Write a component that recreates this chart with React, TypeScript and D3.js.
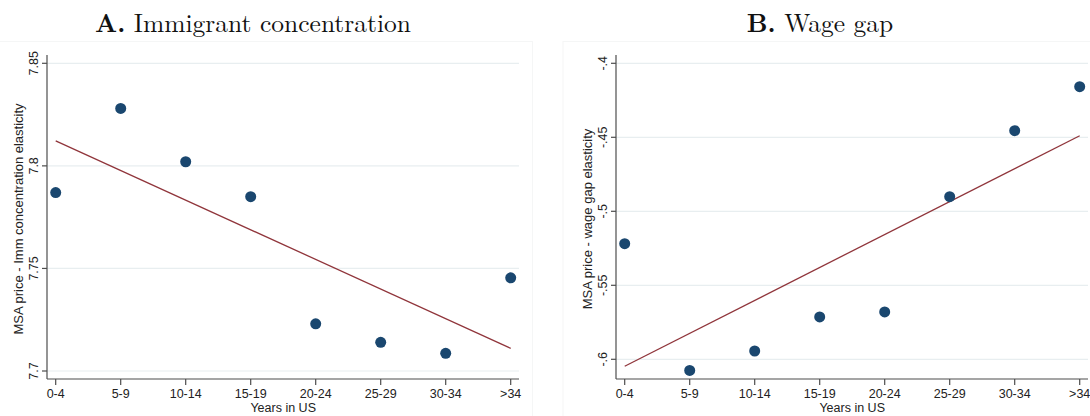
import React from "react";
import * as d3 from "d3";

const categories = ["0-4", "5-9", "10-14", "15-19", "20-24", "25-29", "30-34", ">34"];
const immValues = [7.787, 7.828, 7.802, 7.785, 7.723, 7.714, 7.7086, 7.7454];
const wageValues = [-0.5219, -0.6075, -0.5944, -0.5714, -0.568, -0.4901, -0.4455, -0.4158];
const immTicks = [7.7, 7.75, 7.8, 7.85];
const immTickLabels = ["7.7", "7.75", "7.8", "7.85"];
const wageTicks = [-0.6, -0.55, -0.5, -0.45, -0.4];
const wageTickLabels = ["-.6", "-.55", "-.5", "-.45", "-.4"];

const dotColor = "#1a476f";
const lineColor = "#90353b";
const gridColor = "#e8eef0";
const axisColor = "#4d4d4d";
const sans = "'Liberation Sans', Arial, sans-serif";
const serif = "'Latin Modern Roman', 'Liberation Serif', 'DejaVu Serif', serif";

function fitLine(ys: number[]) {
  const xs = ys.map((_, i) => i);
  const mx = d3.mean(xs)!;
  const my = d3.mean(ys)!;
  let num = 0;
  let den = 0;
  xs.forEach((x, i) => {
    num += (x - mx) * (ys[i] - my);
    den += (x - mx) * (x - mx);
  });
  const b = num / den;
  const a = my - b * mx;
  return [0, xs.length - 1].map((x) => [x, a + b * x]);
}

type PanelProps = {
  left: number;
  right: number;
  frameLeft: number;
  frameRight: number;
  letter: string;
  title: string;
  titleX: number;
  yTitle: string;
  values: number[];
  ticks: number[];
  tickLabels: string[];
  yDomain: [number, number];
  yRange: [number, number];
};

function Panel(p: PanelProps) {
  const top = 55;
  const bottom = 379;
  const x = d3.scaleLinear().domain([0, categories.length - 1]).range([p.left + 8.7, p.left + 8.7 + 65 * 7]);
  const y = d3.scaleLinear().domain(p.yDomain).range(p.yRange);
  const fit = fitLine(p.values);
  const line = d3.line<number[]>().x((d) => x(d[0])).y((d) => y(d[1]));
  const tickX = p.left - 9.5;
  const titleX = p.left - 24;
  return (
    <g>
      <rect x={p.frameLeft} y={41.5} width={p.frameRight - p.frameLeft} height={380} fill="none" stroke="#f5f6f6" strokeWidth={1} />
      <text x={p.titleX} y={32} textAnchor="middle" fontFamily={serif} fontSize={25.5} fill="#111">
        <tspan fontWeight="bold">{p.letter}</tspan> {p.title}
      </text>
      {p.ticks.map((t) => (
        <line key={"g" + t} x1={p.left} x2={p.right} y1={y(t)} y2={y(t)} stroke={gridColor} strokeWidth={1.2} />
      ))}
      <path d={line(fit) || ""} fill="none" stroke={lineColor} strokeWidth={1.3} />
      {p.values.map((v, i) => (
        <circle key={i} cx={x(i)} cy={y(v)} r={5.5} fill={dotColor} />
      ))}
      <line x1={p.left} x2={p.left} y1={top} y2={bottom} stroke={axisColor} strokeWidth={1.2} />
      <line x1={p.left} x2={p.right} y1={bottom} y2={bottom} stroke={axisColor} strokeWidth={1.2} />
      {p.ticks.map((t, i) => (
        <g key={"t" + t}>
          <line x1={p.left - 5} x2={p.left} y1={y(t)} y2={y(t)} stroke={axisColor} strokeWidth={1.2} />
          <text
            transform={`translate(${tickX},${y(t)}) rotate(-90)`}
            textAnchor="middle"
            fontFamily={sans}
            fontSize={12.5}
            fill="#222"
          >
            {p.tickLabels[i]}
          </text>
        </g>
      ))}
      {categories.map((c, i) => (
        <g key={c}>
          <line x1={x(i)} x2={x(i)} y1={bottom} y2={bottom + 6} stroke={axisColor} strokeWidth={1.2} />
          <text x={x(i)} y={397.5} textAnchor="middle" fontFamily={sans} fontSize={12.5} fill="#222">
            {c}
          </text>
        </g>
      ))}
      <text
        transform={`translate(${titleX},${(top + bottom) / 2 + 2}) rotate(-90)`}
        textAnchor="middle"
        fontFamily={sans}
        fontSize={13}
        fill="#222"
      >
        {p.yTitle}
      </text>
      <text x={(x(0) + x(7)) / 2} y={412} textAnchor="middle" fontFamily={sans} fontSize={12.5} fill="#222">
        Years in US
      </text>
    </g>
  );
}

export default function App() {
  return (
    <svg width={1090} height={416} style={{ position: "absolute", left: 0, top: 0, background: "#fff" }}>
      <Panel
        left={47}
        right={519}
        frameLeft={-1}
        frameRight={532.5}
        letter="A."
        title="Immigrant concentration"
        titleX={253}
        yTitle="MSA price - Imm concentration elasticity"
        values={immValues}
        ticks={immTicks}
        tickLabels={immTickLabels}
        yDomain={[7.7, 7.85]}
        yRange={[371, 63.3]}
      />
      <Panel
        left={616}
        right={1088}
        frameLeft={563}
        frameRight={1095}
        letter="B."
        title="Wage gap"
        titleX={820}
        yTitle="MSA price - wage gap elasticity"
        values={wageValues}
        ticks={wageTicks}
        tickLabels={wageTickLabels}
        yDomain={[-0.6, -0.4]}
        yRange={[359.3, 63.3]}
      />
    </svg>
  );
}
